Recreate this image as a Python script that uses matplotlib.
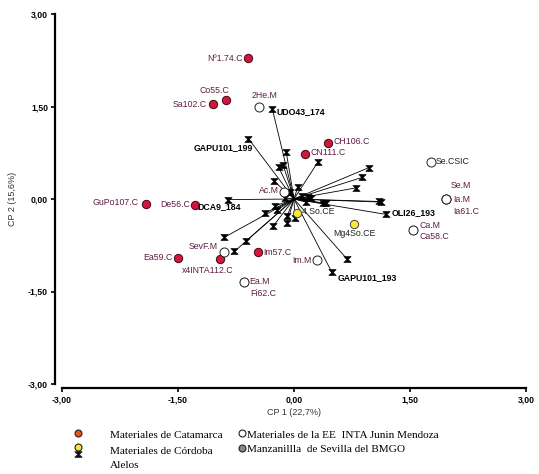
import matplotlib.pyplot as plt
from matplotlib.path import Path
from matplotlib.lines import Line2D

# genotypes (CP1, CP2)
cat_names = ["Nº1.74.C", "Co55.C", "Sa102.C", "CH106.C", "CN111.C", "GuPo107.C",
             "De56.C", "Ea59.C", "x4INTA112.C", "Im57.C", "Fi62.C", "Ia61.C", "Ca58.C"]
cat_x = [-0.60, -0.88, -1.05, 0.44, 0.14, -1.92, -1.28, -1.50, -0.96, -0.46, -0.65, 1.96, 1.54]
cat_y = [2.28, 1.61, 1.54, 0.91, 0.73, -0.08, -0.10, -0.96, -0.98, -0.86, -1.35, 0.00, -0.50]

men_names = ["2He.M", "Se.CSIC", "Ia.M", "Se.M", "Ca.M", "Im.M", "Ea.M", "SevF.M", "Ac.M"]
men_x = [-0.45, 1.77, 1.96, 1.96, 1.54, 0.30, -0.65, -0.90, -0.13]
men_y = [1.50, 0.60, 0.00, 0.00, -0.50, -0.99, -1.35, -0.86, 0.12]

cor_names = ["Mg4So.CE", "4 So.CE"]
cor_x = [0.78, 0.04]
cor_y = [-0.40, -0.22]

allele_names = ["UDO43_174", "GAPU101_199", "DCA9_184", "OLI26_193", "GAPU101_193"]
allele_x = [-0.28, -0.59, -0.85, 1.19, 0.49,
            0.69, 1.13, 1.10, 0.38, 0.97, 0.88, 0.80, 0.31, -0.10, -0.14, -0.20,
            -0.26, -0.38, -0.90, -0.62, -0.77, -0.22, -0.09, 0.01, -0.24, -0.09,
            -0.27, 0.42, 0.10, -0.05, 0.15, 0.05, -0.12, 0.18, 0.22]
allele_y = [1.46, 0.98, -0.01, -0.25, -1.19,
            -0.98, -0.05, -0.04, -0.07, 0.51, 0.35, 0.18, 0.60, 0.76, 0.55, 0.52,
            0.29, -0.23, -0.62, -0.68, -0.85, -0.18, -0.28, -0.31, -0.11, -0.39,
            -0.44, -0.07, 0.05, 0.12, -0.05, 0.20, 0.02, 0.03, 0.01]

# label offsets in pixels (dx, dy, ha)
offs = {
    "Nº1.74.C": (-5, 0, "right"), "Co55.C": (-12, 9, "center"), "Sa102.C": (-6, 0, "right"),
    "CH106.C": (5, 1, "left"), "CN111.C": (6, 1, "left"), "GuPo107.C": (-7, 1, "right"),
    "De56.C": (-5, 1, "right"), "Ea59.C": (-6, 1, "right"), "x4INTA112.C": (-12, -11, "center"),
    "Im57.C": (5, 0, "left"), "Fi62.C": (7, -11, "left"), "Ia61.C": (8, -13, "left"),
    "Ca58.C": (6, -7, "left"), "2He.M": (5, 11, "center"), "Se.CSIC": (5, 0, "left"),
    "Ia.M": (8, 0, "left"), "Se.M": (5, 13, "left"), "Ca.M": (6, 4, "left"),
    "Im.M": (-6, 0, "right"), "Ea.M": (6, 1, "left"), "SevF.M": (-7, 6, "right"),
    "Ac.M": (-5, 1, "right"), "Mg4So.CE": (0, -10, "center"), "4 So.CE": (5, 1, "left"),
    "UDO43_174": (4, -3, "left"), "GAPU101_199": (5, -9, "right"), "DCA9_184": (-9, -7, "center"),
    "OLI26_193": (6, 2, "left"), "GAPU101_193": (6, -5, "left"),
}

lab_col = "#5e1d44"
dark = ["Se.CSIC", "4 So.CE", "Mg4So.CE"]

hour = Path([(-1, 0.8), (1, 0.8), (0.15, 0), (1, -0.8), (-1, -0.8), (-0.15, 0), (-1, 0.8)],
            [Path.MOVETO] + [Path.LINETO] * 5 + [Path.CLOSEPOLY])

fig = plt.figure(figsize=(5.39, 4.74), dpi=100)
ax = fig.add_axes([62 / 539, 1 - 384 / 474, 464 / 539, 370 / 474])
ax.set_xlim(-3, 3)
ax.set_ylim(-3, 3)

for x, y in zip(allele_x, allele_y):
    ax.plot([0, x], [0, y], color="black", lw=0.6, zorder=1)
ax.plot(allele_x, allele_y, ls="none", marker=hour, ms=5.2, color="black", mew=0.5, zorder=3)

ax.plot(men_x, men_y, ls="none", marker="o", ms=6.5, mfc="white", mec="#222222", mew=0.7, zorder=4)
ax.plot(cat_x, cat_y, ls="none", marker="o", ms=6, mfc="#d4163c", mec="#3a0a14", mew=0.7, zorder=2)
ax.plot(cor_x, cor_y, ls="none", marker="o", ms=6, mfc="#f5e83a", mec="#444444", mew=0.7, zorder=4)

pts = list(zip(cat_names, cat_x, cat_y)) + list(zip(men_names, men_x, men_y)) + \
      list(zip(cor_names, cor_x, cor_y)) + list(zip(allele_names, allele_x, allele_y))
for name, x, y in pts:
    dx, dy, ha = offs[name]
    if name in allele_names:
        c, w = "black", "bold"
    elif name in dark:
        c, w = "#222222", "normal"
    else:
        c, w = lab_col, "normal"
    ax.annotate(name, (x, y), xytext=(dx, dy), textcoords="offset pixels", ha=ha, va="center",
                fontsize=6.3, color=c, fontweight=w, family="Liberation Sans", zorder=5)

for s in ["top", "right"]:
    ax.spines[s].set_visible(False)
ax.spines["left"].set_position(("outward", 5))
ax.spines["bottom"].set_position(("outward", 3))
ax.spines["left"].set_linewidth(1.6)
ax.spines["bottom"].set_linewidth(1.6)
ticks = [-3, -1.5, 0, 1.5, 3]
tlabs = ["-3,00", "-1,50", "0,00", "1,50", "3,00"]
ax.set_xticks(ticks, tlabs)
ax.set_yticks(ticks, tlabs)
ax.tick_params(length=3, width=1.2, labelsize=6.2, pad=2)
for t in ax.get_xticklabels() + ax.get_yticklabels():
    t.set_fontweight("bold")
    t.set_family("Liberation Sans")
ax.set_xlabel("CP 1 (22,7%)", fontsize=6.5, family="Liberation Sans", color="#333333", labelpad=3)
ax.set_ylabel("CP 2 (15,6%)", fontsize=6.5, family="Liberation Sans", color="#333333", labelpad=8)

# legend
def fpos(px, py):
    return px / 539, 1 - py / 474

leg = [
    (78, 433, "o", "#e8561e", 110, 435, "Materiales de Catamarca"),
    (78, 447, "o", "#f5e83a", 110, 451, "Materiales de Córdoba"),
    (78, 454, hour, "black", 110, 465, "Alelos"),
    (242, 433, "o", "white", 247, 435, "Materiales de la EE  INTA Junin Mendoza"),
    (242, 448, "o", "#888888", 247, 450, "Manzanillla  de Sevilla del BMGO"),
]
for mx, my, m, fc, tx, ty, txt in leg:
    fx, fy = fpos(mx, my)
    fig.add_artist(Line2D([fx], [fy], marker=m, ms=5, mfc=fc, mec="#222222", mew=0.8, ls="none"))
    tfx, tfy = fpos(tx, ty)
    fig.text(tfx, tfy, txt, fontsize=8.1, family="Liberation Serif", va="center", ha="left")

fig.savefig("out.png", dpi=100)
